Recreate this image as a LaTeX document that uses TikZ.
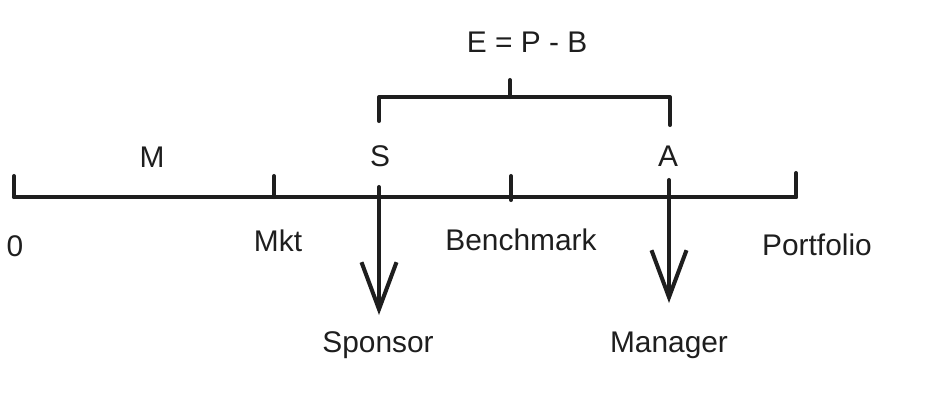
\documentclass[tikz,border=0pt]{standalone}
\usepackage{fontspec}
\setmainfont{Liberation Sans}
\usepackage{xcolor}
\usetikzlibrary{arrows.meta,positioning}
\definecolor{ink}{HTML}{1E1E1E}
\tikzset{
  stroke/.style={draw=ink, line width=2.3pt, line cap=round, line join=round},
  lbl/.style={font=\fontsize{17}{20}\selectfont, text=ink, inner sep=1pt},
  pointer/.style={stroke, -{Straight Barb[length=9.4mm,width=7mm,line width=2.3pt]}},
}

\begin{document}
\begin{tikzpicture}[font=\sffamily]
\useasboundingbox (0,0) rectangle (19.04,8.04);

% ===================== axis with ticks =====================
\coordinate (O0) at (0.28,4.10);
\coordinate (Mk) at (5.48,4.10);
\coordinate (Bm) at (10.22,4.10);
\coordinate (Pf) at (15.92,4.10);
\coordinate (O0t) at (0.28,4.52);
\coordinate (Mkt) at (5.48,4.52);
\coordinate (Bmt) at (10.22,4.52);
\coordinate (Bmb) at (10.22,4.04);
\coordinate (Pft) at (15.92,4.58);
\draw[stroke] (O0) -- (Pf);
\draw[stroke] (O0) -- (O0t);
\draw[stroke] (Mk) -- (Mkt);
\draw[stroke] (Bmb) -- (Bmt);
\draw[stroke] (Pf) -- (Pft);

\node[lbl] (zero) at (0.30,3.12) {0};
\node[lbl] (mkt) at (5.56,3.22) {Mkt};
\node[lbl] (bench) at (10.42,3.24) {Benchmark};
\node[lbl] (port) at (16.34,3.14) {Portfolio};
\node[lbl] (m) at (3.04,4.90) {M};
\node[lbl] (s) at (7.60,4.92) {S};
\node[lbl] (a) at (13.36,4.92) {A};

% ===================== bracket E = P - B =====================
\coordinate (BrL) at (7.58,6.10);
\coordinate (BrR) at (13.40,6.10);
\coordinate (BrLb) at (7.58,5.62);
\coordinate (BrRb) at (13.40,5.54);
\coordinate (BrM) at (10.20,6.10);
\coordinate (BrMt) at (10.20,6.44);
\draw[stroke] (BrLb) -- (BrL) -- (BrR) -- (BrRb);
\draw[stroke] (BrM) -- (BrMt);
\node[lbl] (excess) at (10.54,7.20) {E = P - B};

% ===================== sponsor / manager arrows =====================
\coordinate (SpTop) at (7.58,4.30);
\coordinate (SpTip) at (7.58,1.74);
\coordinate (MgTop) at (13.38,4.44);
\coordinate (MgTip) at (13.38,1.98);
\draw[pointer] (SpTop) -- (SpTip);
\draw[pointer] (MgTop) -- (MgTip);
\node[lbl] (sponsor) at (7.56,1.14) {Sponsor};
\node[lbl] (manager) at (13.38,1.14) {Manager};

\end{tikzpicture}
\end{document}
